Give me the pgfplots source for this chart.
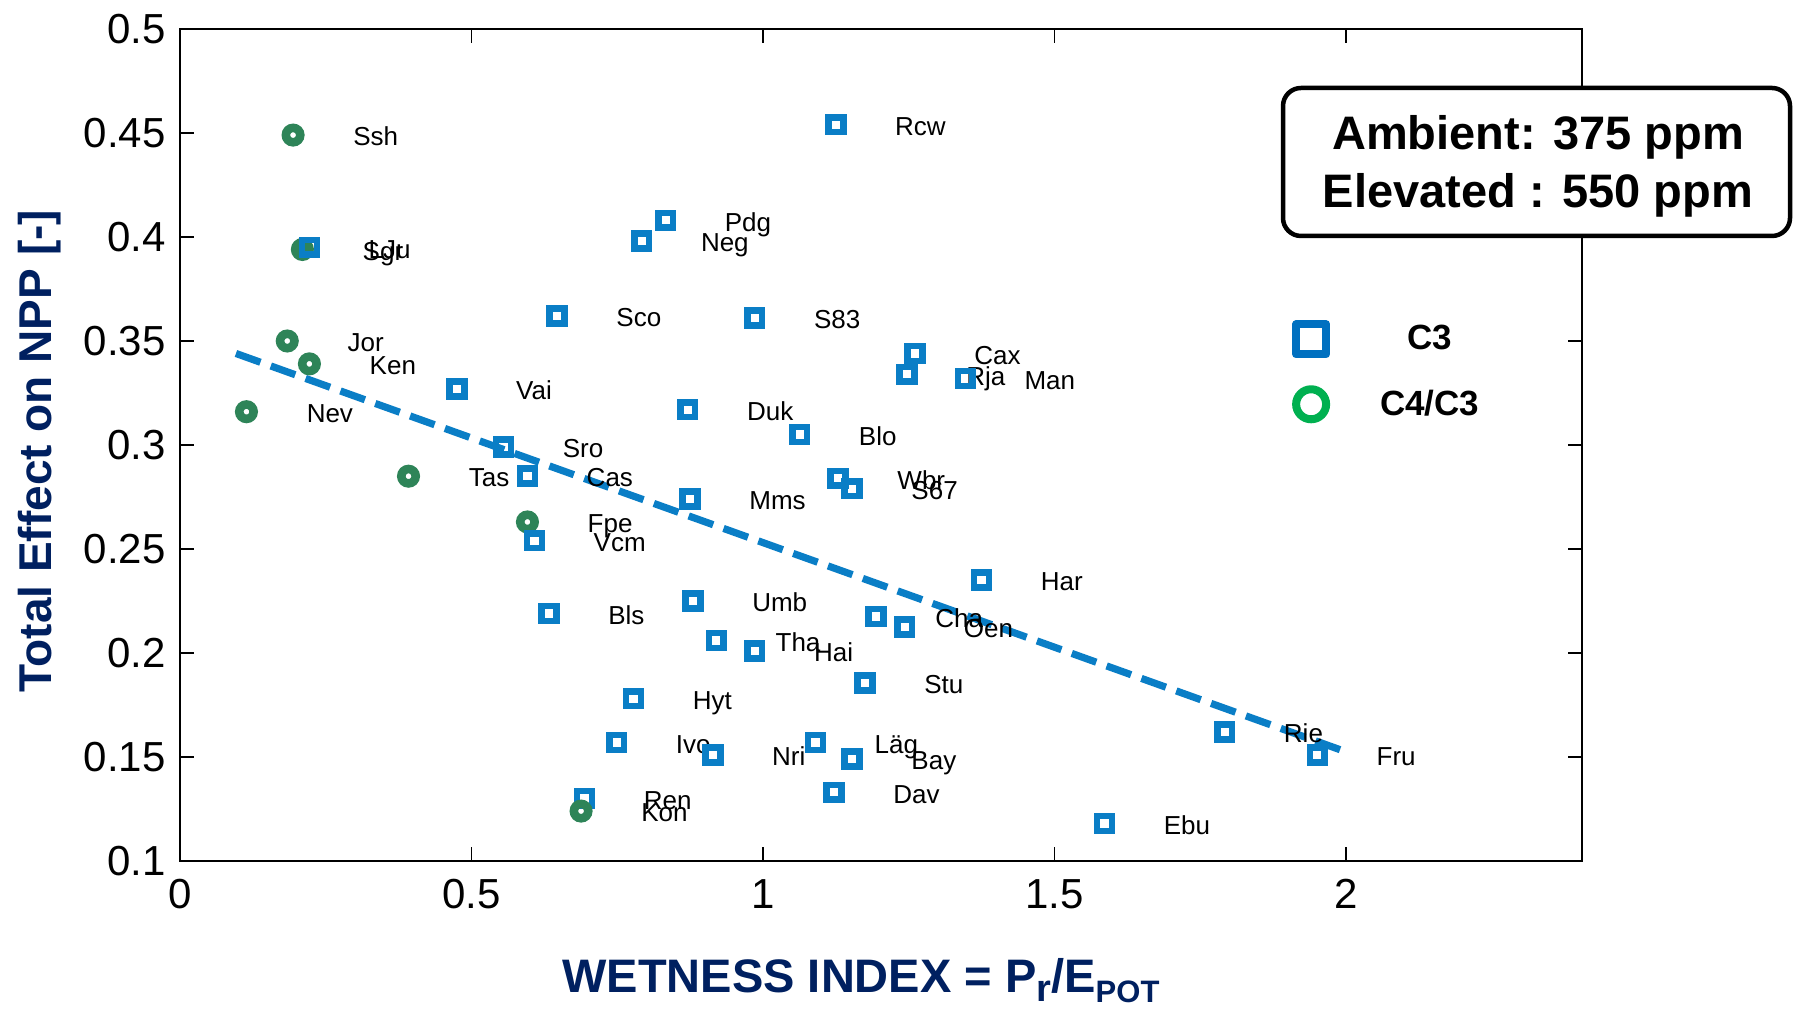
\documentclass[border=0pt]{standalone}
\usepackage{pgfplots}
\pgfplotsset{compat=1.18}
\usepackage{pgfplotstable}
\usepackage{fontspec}
\setmainfont{Liberation Sans}

\definecolor{c3blue}{RGB}{10,126,198}
\definecolor{c4green}{RGB}{46,132,88}
\definecolor{legblue}{RGB}{0,112,192}
\definecolor{leggreen}{RGB}{0,176,80}
\definecolor{navy}{RGB}{0,32,96}

% C3 sites: wetness index, total effect on NPP, site code
\pgfplotstableread{
x y label
0.222 0.395 LJu
1.125 0.454 Rcw
0.833 0.408 Pdg
0.792 0.398 Neg
0.647 0.362 Sco
0.986 0.361 S83
1.261 0.344 Cax
1.247 0.334 Rja
1.347 0.332 Man
0.475 0.327 Vai
0.871 0.317 Duk
1.063 0.305 Blo
0.555 0.299 Sro
0.596 0.285 Cas
1.129 0.284 Wbr
1.153 0.279 S67
0.875 0.274 Mms
0.608 0.254 Vcm
1.375 0.235 Har
0.880 0.225 Umb
0.633 0.219 Bls
1.194 0.2175 Cha
1.243 0.2125 Oen
0.920 0.206 Tha
0.986 0.201 Hai
1.175 0.1855 Stu
0.778 0.178 Hyt
0.749 0.157 Ivo
1.090 0.157 Läg
0.914 0.151 Nri
1.153 0.149 Bay
1.122 0.133 Dav
0.694 0.130 Ren
1.586 0.118 Ebu
1.792 0.162 Rie
1.951 0.151 Fru
}\cthree

% C4/C3 sites
\pgfplotstableread{
x y label
0.194 0.449 Ssh
0.210 0.394 Sgr
0.184 0.350 Jor
0.222 0.339 Ken
0.114 0.316 Nev
0.392 0.285 Tas
0.596 0.263 Fpe
}\cfourA

\pgfplotstableread{
x y label
0.688 0.124 Kon
}\cfourB

\newcommand{\labfont}{\fontsize{13}{15}\selectfont}

\begin{document}
\begin{tikzpicture}
\useasboundingbox (-90pt,-74.5pt) rectangle (806.5pt,430.5pt);
\begin{axis}[
  at={(0pt,0pt)}, anchor=south west,
  scale only axis, width=701pt, height=416pt,
  xmin=0, xmax=2.405, ymin=0.1, ymax=0.5,
  xtick={0,0.5,1,1.5,2},
  ytick={0.1,0.15,0.2,0.25,0.3,0.35,0.4,0.45,0.5},
  tick align=inside, major tick length=7pt,
  tick style={line width=0.6pt, black},
  axis line style={line width=0.8pt},
  /pgf/number format/assume math mode=true,
  tick label style={font=\fontsize{21}{25}\selectfont},
  yticklabel style={inner sep=0pt, xshift=-7pt},
  xticklabel style={inner sep=0pt, yshift=-9pt},
  legend style={draw=none, fill=none, inner sep=0pt,
    at={(axis description cs:0.8600,0.588)}, anchor=center,
    row sep=13.5pt, column sep=25pt,
    font=\fontsize{17.5}{20}\selectfont\bfseries,
    nodes={inner sep=0pt}},
  legend cell align=center,
  every node near coord/.append style={anchor=base west, xshift=28pt,
    yshift=-5.4pt, font=\labfont, text=black, inner sep=0pt},
]
% legend keys
\addlegendimage{legend image code/.code={
  \draw[line width=4pt, draw=legblue, line join=round]
    (0pt,-7.5pt) rectangle (15pt,7.5pt);}}
\addlegendentry{C3}
\addlegendimage{legend image code/.code={
  \draw[line width=4pt, draw=leggreen] (7.5pt,0pt) circle (7.5pt);}}
\addlegendentry{C4/C3}

% C4/C3 sites
\addplot[forget plot, only marks, mark=o, mark size=3.6pt,
  mark options={line width=4.3pt, draw=c4green},
  nodes near coords, point meta=explicit symbolic]
  table[x=x, y=y, meta=label] {\cfourA};
% C3 sites
\addplot[forget plot, only marks, mark=square, mark size=3.7pt,
  mark options={line width=3.3pt, draw=c3blue},
  nodes near coords, point meta=explicit symbolic]
  table[x=x, y=y, meta=label] {\cthree};
\addplot[forget plot, only marks, mark=o, mark size=3.6pt,
  mark options={line width=4.3pt, draw=c4green},
  nodes near coords, point meta=explicit symbolic]
  table[x=x, y=y, meta=label] {\cfourB};
% linear fit
\addplot[forget plot, c3blue, line width=3.6pt, dash pattern=on 13pt off 5.5pt]
  coordinates {(0.096,0.344) (2.0,0.1525)};
\end{axis}

% CO2 concentrations box
\draw[line width=2.25pt, rounded corners=9pt, fill=white]
  (551.5pt,312.5pt) rectangle (805pt,386.5pt);
\node[anchor=base, inner sep=0pt, font=\fontsize{23.5}{28}\selectfont\bfseries]
  at (679pt,355.5pt) {Ambient: 375 ppm};
\node[anchor=base, inner sep=0pt, font=\fontsize{23.5}{28}\selectfont\bfseries]
  at (679pt,326.75pt) {Elevated : 550 ppm};

% axis titles
\node[anchor=base, inner sep=0pt, text=navy, font=\fontsize{23.5}{26}\selectfont\bfseries]
  at (340.5pt,-66pt)
  {WETNESS INDEX = P\raisebox{-4.5pt}{\fontsize{19}{19}\selectfont r}/E\raisebox{-5pt}{\fontsize{15.5}{15.5}\selectfont POT}};
\node[rotate=90, anchor=base, inner sep=0pt, text=navy, font=\fontsize{23}{26}\selectfont\bfseries]
  at (-64pt,205pt) {Total Effect on NPP [-]};
\end{tikzpicture}
\end{document}
